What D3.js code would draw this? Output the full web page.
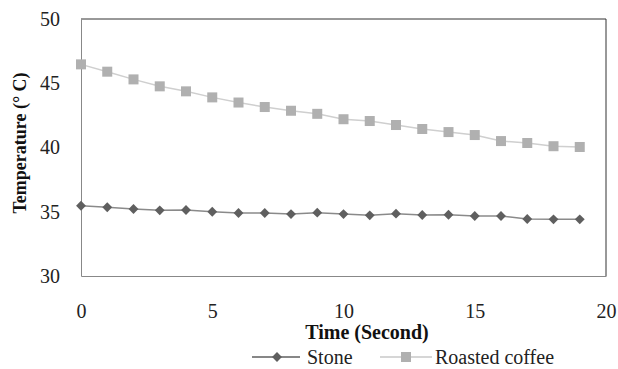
<!DOCTYPE html>
<html>
<head>
<meta charset="utf-8">
<script src="https://cdn.jsdelivr.net/npm/d3@7"></script>
<style>
  body { margin: 0; background: #fff; }
</style>
</head>
<body>
<svg id="chart"></svg>
<script>
// data
const seconds = d3.range(0, 20);
const stone = [35.47, 35.35, 35.21, 35.11, 35.14, 35.0, 34.9, 34.9, 34.82, 34.93,
               34.82, 34.72, 34.85, 34.75, 34.77, 34.67, 34.67, 34.44, 34.41, 34.41];
const roastedCoffee = [46.47, 45.9, 45.3, 44.76, 44.37, 43.9, 43.5, 43.15, 42.86, 42.62,
                       42.2, 42.06, 41.75, 41.44, 41.2, 40.97, 40.5, 40.35, 40.1, 40.04];
const xTicks = [0, 5, 10, 15, 20];
const yTicks = [30, 35, 40, 45, 50];

const FONT = '"Liberation Serif"';
const width = 618, height = 369;
const margin = {top: 19, right: 12, bottom: 93, left: 81};
const innerW = width - margin.left - margin.right;
const innerH = height - margin.top - margin.bottom;

const svg = d3.select("#chart").attr("width", width).attr("height", height);
const chart = svg.append("g").attr("transform", `translate(${margin.left},${margin.top})`);

const x = d3.scaleLinear().domain([0, 20]).range([0, innerW]);
const y = d3.scaleLinear().domain([30, 50]).range([innerH, 0]);

// frame: top/right dark, left/bottom gray axes
chart.append("line").attr("x1", 0).attr("x2", innerW).attr("y1", 0).attr("y2", 0)
    .attr("stroke", "#333").attr("stroke-width", 1);
chart.append("line").attr("x1", innerW).attr("x2", innerW).attr("y1", 0).attr("y2", innerH)
    .attr("stroke", "#333").attr("stroke-width", 1);

const xAxis = d3.axisBottom(x).tickValues(xTicks).tickSize(0).tickPadding(27);
const yAxis = d3.axisLeft(y).tickValues(yTicks).tickSize(0).tickPadding(21);

const xg = chart.append("g").attr("transform", `translate(0,${innerH})`).call(xAxis);
const yg = chart.append("g").call(yAxis);
[xg, yg].forEach(g => {
    g.select(".domain").attr("stroke", "#888");
    g.selectAll("text").style("font-family", FONT).style("font-size", "20px").attr("fill", "#222");
});
xg.selectAll(".tick text").attr("dy", "0.35em").attr("y", 35);

// series
const line = d3.line().x((d, i) => x(seconds[i])).y(d => y(d));

chart.append("path").datum(roastedCoffee)
    .attr("fill", "none").attr("stroke", "#cfcfcf").attr("stroke-width", 1.5)
    .attr("d", line);
chart.append("path").datum(stone)
    .attr("fill", "none").attr("stroke", "#8a8a8a").attr("stroke-width", 1.5)
    .attr("d", line);

const sq = 10;
chart.selectAll(".coffee").data(roastedCoffee).join("rect")
    .attr("class", "coffee")
    .attr("x", (d, i) => x(seconds[i]) - sq / 2)
    .attr("y", d => y(d) - sq / 2)
    .attr("width", sq).attr("height", sq)
    .attr("fill", "#b0b0b0");

const diamond = d3.symbol().type(d3.symbolDiamond2).size(62);
chart.selectAll(".stone").data(stone).join("path")
    .attr("class", "stone")
    .attr("transform", (d, i) => `translate(${x(seconds[i])},${y(d)})`)
    .attr("d", diamond)
    .attr("fill", "#5f5f5f");

// axis titles
svg.append("text")
    .attr("x", 367).attr("y", 332).attr("dy", "0.35em")
    .attr("text-anchor", "middle")
    .style("font-family", FONT).style("font-size", "20px")
    .attr("font-weight", "bold").attr("fill", "#111")
    .text("Time (Second)");

svg.append("text")
    .attr("transform", "translate(26,143) rotate(-90)")
    .attr("text-anchor", "middle")
    .style("font-family", FONT).style("font-size", "18px")
    .attr("font-weight", "bold").attr("fill", "#111")
    .text("Temperature (° C)");

// legend
const legend = svg.append("g").attr("transform", "translate(0,357)");
legend.append("line").attr("x1", 252).attr("x2", 300).attr("y1", 0).attr("y2", 0)
    .attr("stroke", "#5f5f5f").attr("stroke-width", 1.5);
legend.append("path").attr("transform", "translate(277,0)").attr("d", diamond).attr("fill", "#5f5f5f");
legend.append("text").attr("x", 307).attr("y", 0).attr("dy", "0.35em")
    .style("font-family", FONT).style("font-size", "20px")
    .attr("fill", "#222").text("Stone");

legend.append("line").attr("x1", 380).attr("x2", 432).attr("y1", 0).attr("y2", 0)
    .attr("stroke", "#c8c8c8").attr("stroke-width", 1.5);
legend.append("rect").attr("x", 406 - sq / 2).attr("y", -sq / 2)
    .attr("width", sq).attr("height", sq).attr("fill", "#b0b0b0");
legend.append("text").attr("x", 435).attr("y", 0).attr("dy", "0.35em")
    .style("font-family", FONT).style("font-size", "20px")
    .attr("fill", "#222").text("Roasted coffee");
</script>
</body>
</html>
